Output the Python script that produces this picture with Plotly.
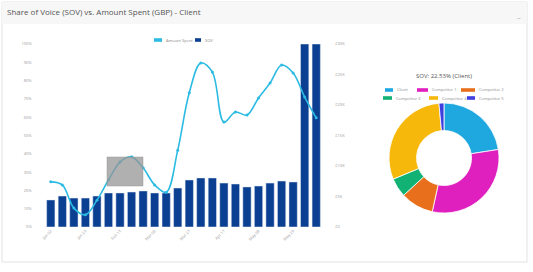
import plotly.graph_objects as go

# ---------------- data ----------------
weeks = ["Jan 02", "Jan 09", "Jan 16", "Jan 23", "Jan 30", "Feb 06", "Feb 13", "Feb 20",
         "Feb 27", "Mar 06", "Mar 13", "Mar 20", "Mar 27", "Apr 03", "Apr 10", "Apr 17",
         "Apr 24", "May 01", "May 08", "May 15", "May 22", "May 29", "Jun 05", "Jun 12"]
sov_pct = [14.8, 16.9, 15.8, 15.8, 16.9, 18.6, 18.6, 19.1, 19.7, 18.6, 18.6, 21.3,
           25.7, 26.8, 26.8, 24.0, 23.5, 21.9, 22.4, 24.0, 25.1, 24.6, 100, 100]
amount_spent = [7400, 6900, 3100, 2000, 4400, 7700, 10650, 11500, 9700, 6900, 5700, 12600,
                22000, 26900, 25400, 17200, 18850, 18350, 21150, 23600, 26550, 25250, 21300, 17900]
shown_ticks = weeks[::3]

sov_labels = ["Client", "Competitor 1", "Competitor 2", "Competitor 3", "Competitor 4", "Competitor 5"]
sov_share = [22.53, 30.9, 9.7, 5.6, 29.8, 1.47]
pie_colors = ["#1fa8e0", "#e01fbf", "#e8701c", "#12b274", "#f6b80a", "#3f3fe0"]

left_ticks = list(range(0, 101, 10))
left_ticktext = [f"{v}%" for v in left_ticks]
right_ticks = list(range(0, 30001, 5000))
right_ticktext = ["£0"] + [f"£{v//1000}K" for v in right_ticks[1:]]

BAR_COLOR = "#0b3f91"
LINE_COLOR = "#2cbbe3"

W, H = 533, 272


def px(x):
    return x / W


def py(y):
    return 1 - y / H


fig = go.Figure()

fig.add_trace(go.Bar(
    x=weeks, y=sov_pct, name="SOV", marker_color=BAR_COLOR,
    width=0.72, yaxis="y", showlegend=False))
fig.add_trace(go.Scatter(
    x=weeks, y=amount_spent, name="Amount Spent", mode="lines+markers",
    line=dict(color=LINE_COLOR, width=1.6, shape="spline", smoothing=1.0),
    marker=dict(size=3, color=LINE_COLOR), yaxis="y2", showlegend=False))

fig.add_trace(go.Pie(
    labels=sov_labels, values=sov_share, hole=0.5, sort=False, direction="clockwise",
    rotation=0, marker=dict(colors=pie_colors, line=dict(color="white", width=0.8)),
    textinfo="none", domain=dict(x=[px(389), px(499)], y=[py(213), py(103)]),
    showlegend=False))

shapes = [
    dict(type="rect", xref="paper", yref="paper", x0=px(2), x1=px(527), y0=py(262), y1=py(2),
         line=dict(color="#e2e2e2", width=1), fillcolor="rgba(0,0,0,0)", layer="below"),
    dict(type="rect", xref="paper", yref="paper", x0=px(2), x1=px(527), y0=py(24), y1=py(2),
         line=dict(width=0), fillcolor="#f7f7f7", layer="below"),
    dict(type="rect", xref="paper", yref="paper", x0=px(107), x1=px(143), y0=py(186), y1=py(157),
         line=dict(color="#9a9a9a", width=0.5), fillcolor="rgba(150,150,150,0.75)", layer="above"),
]
annotations = [
    dict(text="Share of Voice (SOV) vs. Amount Spent (GBP) - Client", xref="paper", yref="paper",
         x=px(5), y=py(12), xanchor="left", yanchor="middle", showarrow=False,
         font=dict(size=8, color="#555")),
    dict(text="−", xref="paper", yref="paper", x=px(523), y=py(12), showarrow=False,
         font=dict(size=7, color="#aaa")),
    dict(text="SOV: 22.53% (Client)", xref="paper", yref="paper", x=px(444), y=py(76),
         xanchor="center", yanchor="middle", showarrow=False,
         font=dict(size=6, color="#555")),
]


def legend_item(x0, x1, y, color, label):
    shapes.append(dict(type="rect", xref="paper", yref="paper", x0=px(x0), x1=px(x1),
                       y0=py(y + 1.8), y1=py(y - 1.8), line=dict(width=0), fillcolor=color))
    annotations.append(dict(text=label, xref="paper", yref="paper", x=px(x1 + 2), y=py(y),
                            xanchor="left", yanchor="middle", showarrow=False,
                            font=dict(size=4, color="#888")))


# chart legend
legend_item(154, 162, 40, LINE_COLOR, "Amount Spent")
legend_item(195, 201, 40, BAR_COLOR, "SOV")
# pie legend
pie_pos = [(385, 393, 90), (417, 428, 90), (461, 475, 90),
           (383, 392, 98), (429, 438, 98), (467, 475, 98)]
for (a, b, yy), c, lab in zip(pie_pos, pie_colors, sov_labels):
    legend_item(a, b, yy, c, lab)

fig.update_layout(
    width=W, height=H, margin=dict(l=0, r=0, t=0, b=0, autoexpand=False),
    paper_bgcolor="white", plot_bgcolor="white",
    font=dict(family="Open Sans", color="#666"),
    showlegend=False,
    xaxis=dict(domain=[px(32.7), px(334.3)], tickvals=shown_ticks, tickangle=-45,
               tickfont=dict(size=4, color="#999"), showgrid=False, showline=False,
               ticks="", fixedrange=True, automargin=False),
    yaxis=dict(range=[0, 100], tickvals=left_ticks, ticktext=left_ticktext,
               tickfont=dict(size=4, color="#999"), showgrid=False, zeroline=False,
               domain=[py(227), py(44)], automargin=False),
    yaxis2=dict(range=[0, 30000], tickvals=right_ticks, ticktext=right_ticktext,
                overlaying="y", side="right", tickfont=dict(size=4, color="#999"),
                showgrid=False, zeroline=False, automargin=False),
    shapes=shapes,
    annotations=annotations,
)

fig.write_html("out.html", config={"displayModeBar": False},
               post_script="document.body.style.margin='0';document.body.style.padding='0';")
